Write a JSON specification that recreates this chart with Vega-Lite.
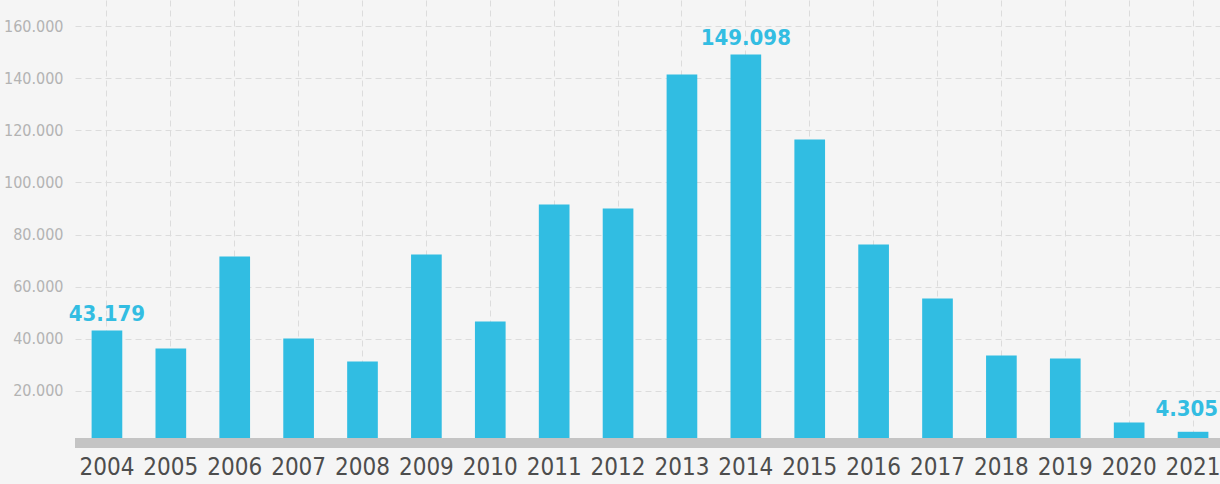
{
  "$schema": "https://vega.github.io/schema/vega-lite/v6.json",
  "width": 1150,
  "height": 443,
  "autosize": "none",
  "padding": {"left": 75, "top": 0, "right": 0, "bottom": 41},
  "background": "#f5f5f5",
  "config": {
    "view": {"stroke": null},
    "font": "DejaVu Sans Condensed, sans-serif",
    "locale": {"number": {"decimal": ",", "thousands": ".", "grouping": [3], "currency": ["", " €"]}}
  },
  "data": {
    "values": [
      {"year": "2004", "value": 43179},
      {"year": "2005", "value": 36260},
      {"year": "2006", "value": 71560},
      {"year": "2007", "value": 40100},
      {"year": "2008", "value": 31270},
      {"year": "2009", "value": 72330},
      {"year": "2010", "value": 46620},
      {"year": "2011", "value": 91520},
      {"year": "2012", "value": 89990},
      {"year": "2013", "value": 141420},
      {"year": "2014", "value": 149098},
      {"year": "2015", "value": 116460},
      {"year": "2016", "value": 76170},
      {"year": "2017", "value": 55450},
      {"year": "2018", "value": 33580},
      {"year": "2019", "value": 32420},
      {"year": "2020", "value": 7870},
      {"year": "2021", "value": 4305}
    ]
  },
  "layer": [
    {
      "mark": {"type": "bar", "color": "#31bde2"},
      "encoding": {
        "x": {
          "field": "year", "type": "ordinal",
          "scale": {"paddingInner": 0.52, "paddingOuter": 0.26},
          "axis": {
            "title": null, "labelAngle": 0, "ticks": false, "domain": false,
            "grid": true, "gridDash": [6, 4], "gridColor": "#dcdcdc", "bandPosition": 0.5,
            "labelFontSize": 24, "labelColor": "#4d4d4d", "labelPadding": 12
          }
        },
        "y": {
          "field": "value", "type": "quantitative",
          "scale": {"domain": [0, 170000], "nice": false},
          "axis": {
            "title": null, "values": [20000, 40000, 60000, 80000, 100000, 120000, 140000, 160000],
            "format": ",.0f", "domain": false, "ticks": false,
            "labelFontSize": 16, "labelColor": "#b3b3b3", "labelPadding": 12,
            "gridDash": [6, 4], "gridColor": "#dcdcdc"
          }
        }
      }
    },
    {
      "mark": {"type": "rule", "color": "#c4c4c4", "strokeWidth": 9},
      "encoding": {"y": {"datum": 0}}
    },
    {
      "transform": [{"filter": {"field": "year", "oneOf": ["2004", "2014"]}}],
      "mark": {"type": "text", "color": "#33bde2", "fontSize": 22, "fontWeight": "bold", "baseline": "alphabetic", "dy": -9},
      "encoding": {
        "x": {"field": "year", "type": "ordinal"},
        "y": {"field": "value", "type": "quantitative"},
        "text": {"field": "value", "type": "quantitative", "format": ",.0f"}
      }
    },
    {
      "transform": [{"filter": {"field": "year", "equal": "2021"}}],
      "mark": {"type": "text", "color": "#33bde2", "fontSize": 22, "fontWeight": "bold", "baseline": "alphabetic", "align": "right", "dx": 25, "dy": -16},
      "encoding": {
        "x": {"field": "year", "type": "ordinal"},
        "y": {"field": "value", "type": "quantitative"},
        "text": {"field": "value", "type": "quantitative", "format": ",.0f"}
      }
    }
  ]
}
